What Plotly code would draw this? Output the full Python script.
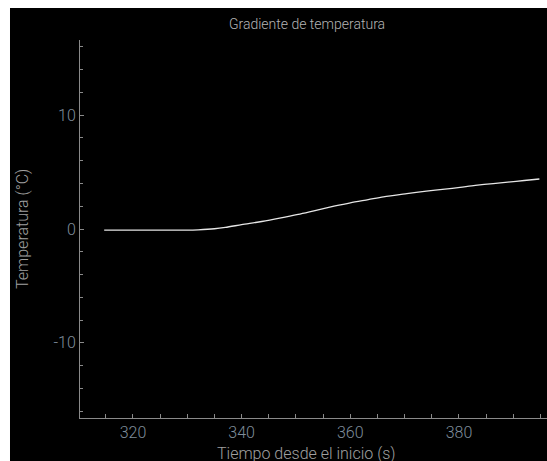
import plotly.graph_objects as go

# Data
tiempo_s = [314.7, 330.0, 332.0, 335.0, 337.0, 340.0, 343.7, 347.0, 350.4, 353.5,
            357.0, 360.0, 363.3, 366.1, 370.4, 374.0, 377.4, 380.2, 383.0, 386.3,
            389.0, 392.0, 394.8]
temperatura_c = [-0.1, -0.1, -0.07, 0.02, 0.14, 0.38, 0.66, 0.95, 1.28, 1.62,
                 2.00, 2.30, 2.58, 2.82, 3.10, 3.32, 3.50, 3.66, 3.83, 3.99,
                 4.12, 4.26, 4.39]
x_ticks = [320, 340, 360, 380]
y_ticks = [-10, 0, 10]
y_tick_labels = ["-10", "0", "10"]

FONT = "Roboto"
AXIS_COL = "#8a8a8a"
TICK_COL = "#7f8d9b"
TITLE_COL = "#a0a0a0"

fig = go.Figure()
fig.add_trace(go.Scatter(
    x=tiempo_s, y=temperatura_c, mode="lines",
    line=dict(color="#e6e6e6", width=1.3, shape="spline", smoothing=0.8),
    showlegend=False, hoverinfo="skip",
))

fig.update_layout(
    width=547, height=461,
    margin=dict(l=80, r=0, t=40, b=43),
    paper_bgcolor="white",
    plot_bgcolor="black",
    font=dict(family=FONT, size=16, color=TICK_COL, weight=300),
    shapes=[dict(type="rect", xref="paper", yref="paper",
                 x0=-0.1499, x1=1.02, y0=-0.2, y1=1.0847,
                 fillcolor="black", line=dict(width=0), layer="below")],
    title=dict(text="Gradiente de temperatura", x=307/547, xanchor="center",
               y=1 - 24/461, yanchor="middle",
               font=dict(family=FONT, size=14, color="#b4b4b4", weight=300)),
    annotations=[
        dict(text="Temperatura (°C)", xref="paper", yref="paper",
             x=(22 - 80) / 467, y=0.5, textangle=-90, showarrow=False,
             xanchor="center", yanchor="middle",
             font=dict(family=FONT, size=16, color=TITLE_COL, weight=300)),
        dict(text="Tiempo desde el inicio (s)", xref="paper", yref="paper",
             x=(306 - 80) / 467, y=(418 - 442) / 378, showarrow=False,
             xanchor="center", yanchor="top",
             font=dict(family=FONT, size=16, color=TITLE_COL, weight=300)),
    ],
)

fig.update_xaxes(
    range=[310.25, 396.2], tickvals=x_ticks, showgrid=False, zeroline=False,
    showline=True, linecolor=AXIS_COL, linewidth=1,
    ticks="inside", ticklen=4, tickcolor=AXIS_COL, tickwidth=1,
    tickfont=dict(family=FONT, size=16, color=TICK_COL, weight=300),
    minor=dict(dtick=5, tick0=0, ticks="inside", ticklen=4, tickcolor=AXIS_COL, showgrid=False),
)
fig.update_yaxes(
    range=[-16.6, 16.6], tickvals=y_ticks, ticktext=y_tick_labels,
    showgrid=False, zeroline=False,
    showline=True, linecolor=AXIS_COL, linewidth=1,
    ticks="inside", ticklen=4, tickcolor=AXIS_COL, tickwidth=1,
    tickfont=dict(family=FONT, size=16, color=TICK_COL, weight=300),
    minor=dict(dtick=2, tick0=0, ticks="inside", ticklen=3, tickcolor=AXIS_COL, showgrid=False),
)

fig.write_html("out.html")
